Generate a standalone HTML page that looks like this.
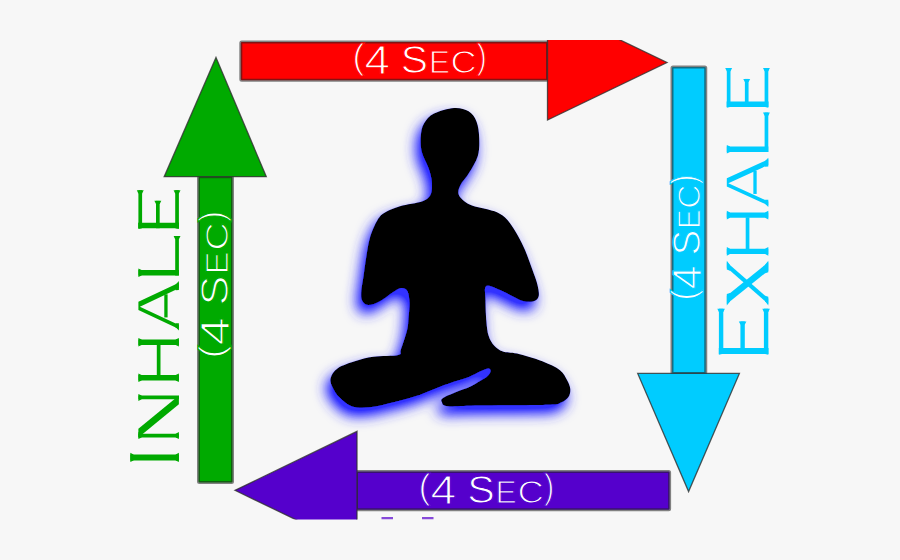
<!DOCTYPE html>
<html><head><meta charset="utf-8"><style>
html,body{margin:0;padding:0;background:#f7f7f7;}
body{width:900px;height:560px;overflow:hidden;position:relative;}
svg{position:absolute;left:0;top:0;}
.sec text{font-family:"Liberation Sans",sans-serif;fill:#fff;}
</style></head><body>
<svg width="900" height="560" viewBox="0 0 900 560">
<defs>
<filter id="glow" x="-40%" y="-40%" width="180%" height="180%">
<feOffset in="SourceAlpha" dx="-4" dy="8" result="o"/>
<feGaussianBlur in="o" stdDeviation="7" result="b1"/>
<feComponentTransfer in="b1" result="m"><feFuncA type="linear" slope="1.3"/></feComponentTransfer>
<feFlood flood-color="#3030ff"/>
<feComposite in2="m" operator="in" result="g"/>
<feMerge><feMergeNode in="g"/><feMergeNode in="SourceGraphic"/></feMerge>
</filter>
<clipPath id="redclip"><rect x="0" y="40" width="900" height="520"/></clipPath>
<clipPath id="clip"><rect x="0" y="0" width="900" height="519.5"/></clipPath>
</defs>
<g clip-path="url(#clip)">
<rect x="240.8" y="42" width="306.7" height="38.2" rx="1" fill="#ff0000" stroke="#202020" stroke-opacity="0.55" stroke-width="3"/>
<path d="M547.5,5 L667,62.5 L547.5,120 Z" fill="#ff0000" stroke="#303030" stroke-opacity="0.8" stroke-width="1.3" clip-path="url(#redclip)"/>
<rect x="198.5" y="176.7" width="34" height="305.8" rx="1" fill="#00aa00" stroke="#202020" stroke-opacity="0.55" stroke-width="3"/>
<path d="M216,57.5 L266.3,176.7 L164.2,176.7 Z" fill="#00aa00" stroke="#303030" stroke-opacity="0.8" stroke-width="1.3"/>
<rect x="672" y="67" width="33.75" height="306.4" rx="1" fill="#00ccff" stroke="#202020" stroke-opacity="0.55" stroke-width="3"/>
<path d="M637.7,373.4 L739.4,373.4 L688.6,491.5 Z" fill="#00ccff" stroke="#303030" stroke-opacity="0.8" stroke-width="1.3"/>
<rect x="356.5" y="471.5" width="313.1" height="38.2" rx="1" fill="#5500cc" stroke="#202020" stroke-opacity="0.55" stroke-width="3"/>
<path d="M235,490.3 L357,431.4 L357,549.2 Z" fill="#5500cc" stroke="#303030" stroke-opacity="0.8" stroke-width="1.3"/>
<path d="M454.0,108.0 C459.8,107.6 464.9,109.0 468.6,111.2 C472.4,113.5 474.7,117.0 476.5,121.5 C478.3,126.0 479.0,132.2 479.2,138.0 C479.4,143.8 479.5,150.2 477.8,156.0 C476.1,161.8 471.9,168.2 469.0,173.0 C466.1,177.8 462.2,181.5 460.5,185.0 C458.8,188.5 457.9,191.3 458.5,194.0 C459.1,196.7 461.8,199.1 464.0,201.0 C466.2,202.9 468.5,204.2 472.0,205.5 C475.5,206.8 480.8,207.5 485.0,208.7 C489.2,209.9 493.8,210.6 497.5,212.5 C501.2,214.4 504.2,216.2 507.5,220.0 C510.8,223.8 514.6,230.0 517.5,235.0 C520.4,240.0 522.5,244.2 525.0,250.0 C527.5,255.8 530.4,264.2 532.5,270.0 C534.6,275.8 536.5,280.6 537.5,285.0 C538.5,289.4 539.3,293.5 538.7,296.2 C538.1,298.9 536.2,300.4 533.7,301.2 C531.2,302.0 527.2,302.0 523.7,301.2 C520.2,300.4 516.5,298.1 512.5,296.2 C508.6,294.3 504.4,291.7 500.0,290.0 C495.6,288.3 488.6,284.5 486.2,286.2 C483.8,287.9 485.5,294.1 485.5,300.0 C485.5,305.9 485.9,315.4 486.4,321.4 C486.9,327.3 487.3,331.6 488.6,335.7 C489.9,339.8 491.9,343.1 494.3,345.7 C496.7,348.3 499.1,350.1 502.9,351.4 C506.7,352.7 510.5,352.0 517.1,353.6 C523.7,355.2 535.1,358.5 542.3,361.3 C549.4,364.1 555.9,367.1 560.0,370.2 C564.1,373.3 565.3,376.9 567.0,380.0 C568.7,383.1 570.0,386.2 570.3,389.0 C570.5,391.8 570.0,394.8 568.5,397.0 C567.0,399.2 564.4,401.2 561.0,402.5 C557.6,403.8 561.5,404.3 548.0,404.8 C534.5,405.3 496.7,405.4 480.0,405.6 C463.3,405.8 454.4,406.8 448.0,406.2 C441.6,405.6 442.6,403.4 441.8,402.0 C441.0,400.6 440.8,399.6 443.0,398.0 C445.2,396.4 450.5,394.4 455.0,392.5 C459.5,390.6 465.8,388.7 470.0,386.8 C474.2,384.9 477.2,382.7 480.0,381.0 C482.8,379.3 485.2,378.1 487.0,376.5 C488.8,374.9 490.2,372.9 490.5,371.5 C490.8,370.1 490.2,368.4 488.5,368.4 C486.8,368.4 483.1,370.2 480.0,371.6 C476.9,373.0 475.9,374.2 470.0,376.5 C464.1,378.8 452.8,382.0 444.4,385.1 C436.0,388.2 427.9,392.1 419.6,394.9 C411.3,397.7 403.0,399.9 394.7,402.0 C386.4,404.1 376.9,406.6 369.8,407.3 C362.7,408.0 357.0,408.0 352.0,406.4 C347.0,404.8 342.9,400.9 339.6,397.6 C336.3,394.4 333.9,390.2 332.4,386.9 C330.9,383.6 329.8,381.1 330.7,378.0 C331.6,374.9 333.6,371.0 337.8,368.2 C342.0,365.4 349.7,363.0 355.6,361.1 C361.5,359.2 366.2,357.7 373.3,356.7 C380.4,355.7 393.6,356.1 398.2,354.9 C402.8,353.7 399.4,353.8 400.9,349.6 C402.4,345.5 405.8,335.3 407.1,330.0 C408.4,324.7 408.1,322.5 408.5,318.0 C408.9,313.5 409.7,307.5 409.5,303.0 C409.3,298.5 408.9,293.7 407.5,291.2 C406.1,288.7 403.7,287.8 401.2,288.0 C398.7,288.2 396.0,290.3 392.5,292.5 C389.0,294.7 384.0,299.1 380.0,301.2 C376.0,303.3 371.6,305.0 368.7,305.0 C365.8,305.0 363.8,303.3 362.5,301.2 C361.2,299.1 361.0,296.9 361.2,292.5 C361.4,288.1 362.9,280.8 363.7,275.0 C364.5,269.2 365.1,263.8 366.2,257.5 C367.2,251.2 368.1,243.8 370.0,237.5 C371.9,231.2 375.0,224.2 377.5,220.0 C380.0,215.8 381.2,214.8 385.0,212.5 C388.8,210.2 393.8,208.1 400.0,206.2 C406.2,204.3 417.4,203.2 422.5,201.2 C427.6,199.2 429.1,197.6 430.7,194.3 C432.2,191.0 432.2,185.9 431.8,181.5 C431.4,177.1 430.2,172.9 428.5,168.0 C426.8,163.1 423.1,157.3 421.8,152.0 C420.5,146.7 420.4,140.8 420.8,136.0 C421.2,131.2 421.8,127.2 424.0,123.5 C426.2,119.8 429.0,116.2 434.0,113.6 C439.0,111.0 448.2,108.4 454.0,108.0Z" fill="#000" filter="url(#glow)"/>
<g class="sec" transform="translate(354.7,73.5)"><text transform="translate(-2.23,-4.33) scale(1.016,1)" font-size="35.42" stroke="#ff0000" stroke-width="1.1">(</text><text transform="translate(9.70,0.60) scale(1.149,1)" font-size="39.97" stroke="#ff0000" stroke-width="1.1">4</text><text transform="translate(46.04,-0.48) scale(1.053,1)" font-size="38.84" stroke="#ff0000" stroke-width="1.1">S</text><text transform="translate(74.24,-0.10) scale(0.975,1)" font-size="32.27" stroke="#ff0000" stroke-width="1.1">E</text><text transform="translate(95.89,-0.41) scale(1.155,1)" font-size="31.36" stroke="#ff0000" stroke-width="1.1">C</text><text transform="translate(122.11,-4.66) scale(0.875,1)" font-size="34.56" stroke="#ff0000" stroke-width="1.1">)</text></g>
<g class="sec" transform="translate(420.7,503.5)"><text transform="translate(-2.25,-4.33) scale(1.025,1)" font-size="35.42" stroke="#5500cc" stroke-width="1.1">(</text><text transform="translate(9.79,0.60) scale(1.159,1)" font-size="39.97" stroke="#5500cc" stroke-width="1.1">4</text><text transform="translate(46.47,-0.48) scale(1.063,1)" font-size="38.84" stroke="#5500cc" stroke-width="1.1">S</text><text transform="translate(74.92,-0.10) scale(0.984,1)" font-size="32.27" stroke="#5500cc" stroke-width="1.1">E</text><text transform="translate(96.77,-0.41) scale(1.166,1)" font-size="31.36" stroke="#5500cc" stroke-width="1.1">C</text><text transform="translate(123.23,-4.66) scale(0.883,1)" font-size="34.56" stroke="#5500cc" stroke-width="1.1">)</text></g>
<g class="sec" transform="translate(228.5,356) rotate(-90)"><text transform="translate(-2.45,-4.33) scale(1.115,1)" font-size="35.42" stroke="#00aa00" stroke-width="1.1">(</text><text transform="translate(10.65,0.60) scale(1.261,1)" font-size="39.97" stroke="#00aa00" stroke-width="1.1">4</text><text transform="translate(50.53,-0.48) scale(1.156,1)" font-size="38.84" stroke="#00aa00" stroke-width="1.1">S</text><text transform="translate(81.48,-0.10) scale(1.070,1)" font-size="32.27" stroke="#00aa00" stroke-width="1.1">E</text><text transform="translate(105.23,-0.41) scale(1.268,1)" font-size="31.36" stroke="#00aa00" stroke-width="1.1">C</text><text transform="translate(134.01,-4.66) scale(0.960,1)" font-size="34.56" stroke="#00aa00" stroke-width="1.1">)</text></g>
<g class="sec" transform="translate(700.3,298.3) rotate(-90)"><text transform="translate(-2.08,-4.33) scale(0.948,1)" font-size="35.42" stroke="#00ccff" stroke-width="1.1">(</text><text transform="translate(9.06,0.60) scale(1.072,1)" font-size="39.97" stroke="#00ccff" stroke-width="1.1">4</text><text transform="translate(42.97,-0.48) scale(0.983,1)" font-size="38.84" stroke="#00ccff" stroke-width="1.1">S</text><text transform="translate(69.28,-0.10) scale(0.910,1)" font-size="32.27" stroke="#00ccff" stroke-width="1.1">E</text><text transform="translate(89.48,-0.41) scale(1.078,1)" font-size="31.36" stroke="#00ccff" stroke-width="1.1">C</text><text transform="translate(113.95,-4.66) scale(0.816,1)" font-size="34.56" stroke="#00ccff" stroke-width="1.1">)</text></g>
<g transform="translate(178.9,460.9) rotate(-90)" fill="#00aa00"><polygon points="0.50,-48.60 6.50,-48.60 6.50,0.00 0.50,0.00"/><polygon points="-1.10,-48.60 8.10,-48.60 6.50,-45.40 0.50,-45.40"/><polygon points="-1.10,0.00 8.10,0.00 6.50,-3.20 0.50,-3.20"/><polygon points="23.50,-40.50 27.20,-40.50 27.20,0.00 23.50,0.00"/><polygon points="21.90,-40.50 28.80,-40.50 27.20,-37.30 23.50,-37.30"/><polygon points="21.90,0.00 28.80,0.00 27.20,-3.20 23.50,-3.20"/><polygon points="61.60,-40.50 65.30,-40.50 65.30,0.00 61.60,0.00"/><polygon points="60.00,-40.50 66.90,-40.50 65.30,-37.30 61.60,-37.30"/><polygon points="23.50,-40.50 32.14,-40.50 65.30,0.00 56.66,0.00"/><polygon points="80.50,-40.50 85.90,-40.50 85.90,0.00 80.50,0.00"/><polygon points="78.90,-40.50 87.50,-40.50 85.90,-37.30 80.50,-37.30"/><polygon points="78.90,0.00 87.50,0.00 85.90,-3.20 80.50,-3.20"/><polygon points="115.90,-40.50 121.30,-40.50 121.30,0.00 115.90,0.00"/><polygon points="114.30,-40.50 122.90,-40.50 121.30,-37.30 115.90,-37.30"/><polygon points="114.30,0.00 122.90,0.00 121.30,-3.20 115.90,-3.20"/><polygon points="85.40,-22.10 116.40,-22.10 116.40,-18.40 85.40,-18.40"/><polygon points="131.90,0.00 150.88,-40.50 159.22,-40.50 178.20,0.00 172.53,0.00 154.25,-39.00 135.97,0.00"/><polygon points="130.30,0.00 137.57,0.00 137.73,-3.20 133.66,-3.20"/><polygon points="170.93,0.00 179.80,0.00 176.44,-3.20 170.77,-3.20"/><polygon points="143.47,-14.62 166.62,-14.62 166.62,-11.30 143.47,-11.30"/><polygon points="185.40,-40.50 190.80,-40.50 190.80,0.00 185.40,0.00"/><polygon points="183.80,-40.50 192.40,-40.50 190.80,-37.30 185.40,-37.30"/><polygon points="185.40,-3.70 224.90,-3.70 224.90,0.00 185.40,0.00"/><polygon points="224.90,-5.30 224.90,1.60 221.70,0.00 221.70,-3.70"/><polygon points="232.70,-40.50 238.10,-40.50 238.10,0.00 232.70,0.00"/><polygon points="232.70,-40.50 270.70,-40.50 270.70,-36.80 232.70,-36.80"/><polygon points="270.70,-42.10 270.70,-35.20 267.50,-36.80 267.50,-40.50"/><polygon points="232.70,-3.70 270.70,-3.70 270.70,0.00 232.70,0.00"/><polygon points="270.70,-5.30 270.70,1.60 267.50,0.00 267.50,-3.70"/><polygon points="232.70,-22.91 260.06,-22.91 260.06,-19.21 232.70,-19.21"/><polygon points="260.06,-24.51 260.06,-17.61 256.86,-19.21 256.86,-22.91"/><polygon points="231.90,-40.50 238.10,-40.50 238.10,-37.30 232.70,-37.30"/><polygon points="231.90,0.00 238.10,0.00 238.10,-3.20 232.70,-3.20"/></g>
<g transform="translate(768.3,354) rotate(-90)" fill="#00ccff"><polygon points="0.00,-49.40 6.00,-49.40 6.00,0.00 0.00,0.00"/><polygon points="0.00,-49.40 45.30,-49.40 45.30,-45.00 0.00,-45.00"/><polygon points="45.30,-51.00 45.30,-43.40 42.10,-45.00 42.10,-49.40"/><polygon points="0.00,-4.40 45.30,-4.40 45.30,0.00 0.00,0.00"/><polygon points="45.30,-6.00 45.30,1.60 42.10,0.00 42.10,-4.40"/><polygon points="0.00,-27.89 32.62,-27.89 32.62,-23.49 0.00,-23.49"/><polygon points="32.62,-29.49 32.62,-21.89 29.42,-23.49 29.42,-27.89"/><polygon points="-0.80,-49.40 6.00,-49.40 6.00,-46.20 0.00,-46.20"/><polygon points="-0.80,0.00 6.00,0.00 6.00,-3.20 0.00,-3.20"/><polygon points="50.00,-41.50 58.37,-41.50 91.70,0.00 83.33,0.00"/><polygon points="48.40,-41.50 59.97,-41.50 60.94,-38.30 52.57,-38.30"/><polygon points="81.73,0.00 93.30,0.00 89.13,-3.20 80.76,-3.20"/><polygon points="86.15,-41.50 91.70,-41.50 55.55,0.00 50.00,0.00"/><polygon points="84.55,-41.50 93.30,-41.50 88.91,-38.30 83.36,-38.30"/><polygon points="48.40,0.00 57.15,0.00 58.34,-3.20 52.79,-3.20"/><polygon points="99.90,-41.50 105.30,-41.50 105.30,0.00 99.90,0.00"/><polygon points="98.30,-41.50 106.90,-41.50 105.30,-38.30 99.90,-38.30"/><polygon points="98.30,0.00 106.90,0.00 105.30,-3.20 99.90,-3.20"/><polygon points="136.20,-41.50 141.60,-41.50 141.60,0.00 136.20,0.00"/><polygon points="134.60,-41.50 143.20,-41.50 141.60,-38.30 136.20,-38.30"/><polygon points="134.60,0.00 143.20,0.00 141.60,-3.20 136.20,-3.20"/><polygon points="104.80,-22.60 136.70,-22.60 136.70,-18.90 104.80,-18.90"/><polygon points="148.50,0.00 167.44,-41.50 175.76,-41.50 194.70,0.00 189.03,0.00 170.80,-39.94 152.57,0.00"/><polygon points="146.90,0.00 154.17,0.00 154.33,-3.20 150.26,-3.20"/><polygon points="187.43,0.00 196.30,0.00 192.94,-3.20 187.27,-3.20"/><polygon points="160.05,-14.95 183.15,-14.95 183.15,-11.62 160.05,-11.62"/><polygon points="202.00,-41.50 207.40,-41.50 207.40,0.00 202.00,0.00"/><polygon points="200.40,-41.50 209.00,-41.50 207.40,-38.30 202.00,-38.30"/><polygon points="202.00,-3.70 241.50,-3.70 241.50,0.00 202.00,0.00"/><polygon points="241.50,-5.30 241.50,1.60 238.30,0.00 238.30,-3.70"/><polygon points="247.00,-41.50 252.40,-41.50 252.40,0.00 247.00,0.00"/><polygon points="247.00,-41.50 286.00,-41.50 286.00,-37.80 247.00,-37.80"/><polygon points="286.00,-43.10 286.00,-36.20 282.80,-37.80 282.80,-41.50"/><polygon points="247.00,-3.70 286.00,-3.70 286.00,0.00 247.00,0.00"/><polygon points="286.00,-5.30 286.00,1.60 282.80,0.00 282.80,-3.70"/><polygon points="247.00,-23.43 275.08,-23.43 275.08,-19.73 247.00,-19.73"/><polygon points="275.08,-25.03 275.08,-18.13 271.88,-19.73 271.88,-23.43"/><polygon points="246.20,-41.50 252.40,-41.50 252.40,-38.30 247.00,-38.30"/><polygon points="246.20,0.00 252.40,0.00 252.40,-3.20 247.00,-3.20"/></g>
<rect x="381.5" y="517" width="11.5" height="2.5" fill="#5500cc" fill-opacity="0.7"/>
<rect x="422" y="517" width="11.5" height="2.5" fill="#5500cc" fill-opacity="0.7"/>
</g>
</svg>
</body></html>
